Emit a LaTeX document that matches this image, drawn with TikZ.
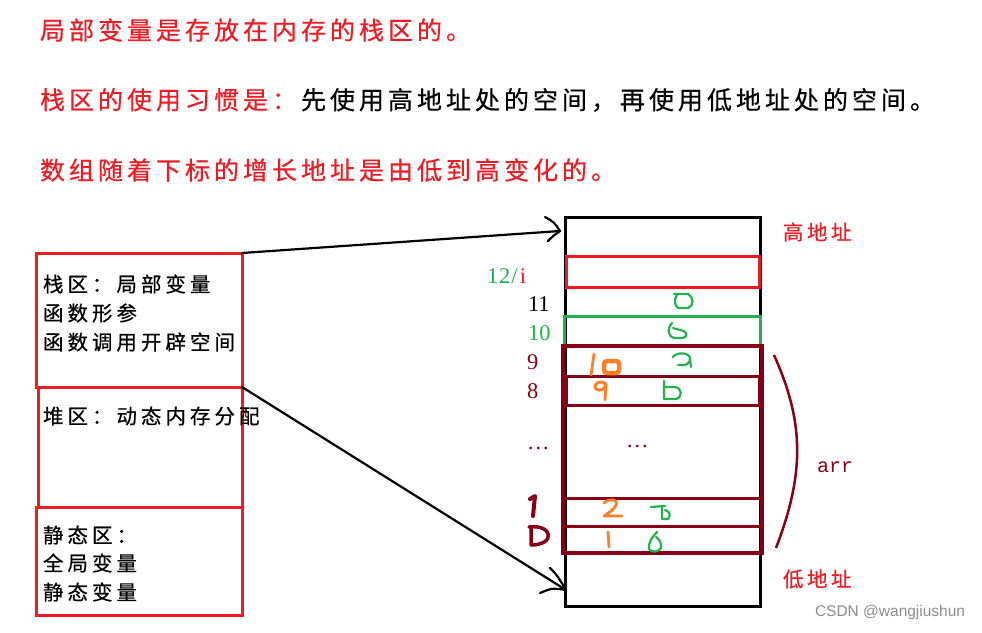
\documentclass[tikz,border=0pt]{standalone}
\usepackage{fontspec}
\setmainfont{Liberation Serif}
\newfontfamily\cjk[FakeBold=0.5]{Noto Sans CJK SC}
\newfontfamily\monof{Liberation Mono}
\newfontfamily\sansf{Liberation Sans}
\usetikzlibrary{arrows.meta}
\definecolor{pred}{HTML}{ED1C24}
\definecolor{pgreen}{HTML}{22B14C}
\definecolor{porange}{HTML}{FF7F27}
\definecolor{pdark}{HTML}{880015}
\makeatletter
\newcommand\cjkspread[2]{\@tfor\cjk@c:=#2\do{\makebox[#1][l]{\cjk@c}}}
\makeatother
\tikzset{
  txt/.style={inner sep=0pt, outer sep=0pt, anchor=west},
  title/.style={txt, font=\cjk\fontsize{25}{27}\selectfont},
  boxtxt/.style={txt, font=\cjk\fontsize{20.5}{22}\selectfont},
  num/.style={txt, font=\fontsize{22.5}{24}\selectfont},
  cell/.style={draw, inner sep=0pt, outer sep=0pt},
  hand/.style={line width=2.2pt, line cap=round, line join=round},
  conn/.style={line width=2.2pt, line cap=round, line join=round}
}
\begin{document}
\begin{tikzpicture}[x=1pt,y=-1pt]
\useasboundingbox (0,0) rectangle (982,632);
% titles
\node[title, text=pred] (t1) at (40,30) {\cjkspread{29pt}{局部变量是存放在内存的栈区的。}};
\node[title] (t2) at (40,100) {{\color{pred}\cjkspread{29pt}{栈区的使用习惯是：}}\cjkspread{29pt}{先使用高地址处的空间，再使用低地址处的空间。}};
\node[title, text=pred] (t3) at (40,170) {\cjkspread{29pt}{数组随着下标的增长地址是由低到高变化的。}};
% left memory zones
\node[cell, draw=pred, line width=3pt, minimum width=206, minimum height=134] (stack) at (139,320) {};
\node[cell, draw=pred, line width=3pt, minimum width=204, minimum height=120] (heap) at (140,447) {};
\node[cell, draw=pred, line width=3pt, minimum width=206, minimum height=108] (static) at (139,561) {};
\node[boxtxt] (s1) at (43,284) {\cjkspread{24.5pt}{栈区：局部变量}};
\node[boxtxt] (s2) at (43,313) {\cjkspread{24.5pt}{函数形参}};
\node[boxtxt] (s3) at (43,342) {\cjkspread{24.5pt}{函数调用开辟空间}};
\node[boxtxt] (h1) at (43,416) {\cjkspread{24.5pt}{堆区：动态内存分配}};
\node[boxtxt] (g1) at (43,535) {\cjkspread{24.5pt}{静态区：}};
\node[boxtxt] (g2) at (43,563) {\cjkspread{24.5pt}{全局变量}};
\node[boxtxt] (g3) at (43,592) {\cjkspread{24.5pt}{静态变量}};
% memory column
\node[cell, line width=3pt, minimum width=195, minimum height=389] (mem) at (662.5,411.5) {};
\node[cell, draw=pred, line width=3pt, minimum width=193, minimum height=31] (ci) at (662.5,271.5) {};
\node[cell, draw=pgreen, line width=3pt, minimum width=196, minimum height=29] (c10) at (662,330.5) {};
\node[cell, draw=pdark, line width=3.5pt, minimum width=199, minimum height=207] (arr) at (662.5,449.5) {};
\node[cell, draw=pdark, line width=3pt, minimum width=193, minimum height=29] (c8) at (662.5,390.5) {};
\node[cell, draw=pdark, line width=3pt, minimum width=199, minimum height=28] (c1) at (662.5,512) {};
\node[cell, draw=pdark, line width=3pt, minimum width=199, minimum height=27] (c0) at (662.5,539.5) {};
% index labels
\node[num] (li) at (487,276) {\textcolor{pgreen}{1\kern1pt2\kern1pt/\kern2pt}\textcolor{pred}{i}};
\node[num] (l11) at (528,304) {11};
\node[num, text=pgreen] (l10) at (528,333) {10};
\node[num, text=pdark] (l9) at (527,362) {9};
\node[num, text=pdark] (l8) at (527,391) {8};
\node[num, text=pdark] (ld) at (527,448) {\ldots};
\node[num, text=pdark] (md) at (626,446) {\ldots};
% handwritten dark red 1 and 0
\draw[pdark, line width=4pt, line cap=round, line join=round] (530,499) -- (535,496) -- (533,516);
\draw[pdark, line width=3.5pt, line cap=round, line join=round] (531,527) -- (531,545)
  (529,527) .. controls (553,524) and (556,545) .. (531,545);
% green handwritten zeros
\draw[hand, pgreen] (674,294) -- (688,294) .. controls (694,297) and (694,306) .. (688,308) -- (678,308) .. controls (674,305) and (674,299) .. (677,295);
\draw[hand, pgreen] (672,323) .. controls (667,328) and (667,338) .. (676,338) -- (683,338) .. controls (689,336) and (687,331) .. (680,330) -- (673,328);
\draw[hand, pgreen] (673,357) .. controls (676,352) and (689,352) .. (690,358) .. controls (691,364) and (685,366) .. (678,365) (690,360) -- (691,367);
\draw[hand, pgreen] (664,381) -- (664,399) -- (676,399) .. controls (683,397) and (682,388) .. (675,387) -- (665,387);
\draw[hand, pgreen] (651,507) -- (665,506) (662,507) -- (662,519) -- (668,519) .. controls (671,516) and (670,511) .. (665,510);
\draw[hand, pgreen] (657,532) .. controls (652,537) and (648,543) .. (649,549) .. controls (651,553) and (659,552) .. (661,548) .. controls (662,543) and (659,539) .. (656,537);
% orange handwritten indices
\draw[hand, porange, line width=2.8pt] (594,354) -- (591,375);
\draw[porange, line width=4.5pt, rounded corners=3pt] (604,361) rectangle (619,373);
\draw[hand, porange, line width=2.8pt] (606,384) .. controls (600,379) and (592,384) .. (596,389) .. controls (600,392) and (605,389) .. (606,384) -- (605,400);
\draw[hand, porange, line width=2.8pt] (604,503) .. controls (608,498) and (619,499) .. (616,505) .. controls (614,510) and (608,513) .. (604,516) -- (622,516);
\draw[hand, porange, line width=2.8pt] (608,532) -- (609,547);
% address labels
\node[boxtxt, text=pred] (hi) at (783,232) {\cjkspread{24pt}{高地址}};
\node[boxtxt, text=pred] (lo) at (783,579) {\cjkspread{24pt}{低地址}};
% arr brace
\coordinate (bt) at (774,355);
\coordinate (bb) at (776,548);
\draw[pdark, line width=2.5pt] (bt) .. controls (803,420) and (806,470) .. (bb);
\node[txt, font=\monof\fontsize{20}{22}\selectfont, text=pdark] (arrl) at (817,467) {arr};
% connectors
\coordinate (hiin) at (560,231);
\coordinate (loin) at (566,590);
\draw[conn] (stack.north east) -- (hiin);
\draw[conn] (545,217) .. controls (554,222) .. (hiin) .. controls (553,236) .. (548,241);
\draw[conn] (stack.south east) -- (loin);
\draw[conn] (550,568) .. controls (557,575) .. (loin) .. controls (552,588) .. (540,593);
% watermark
\node[txt, font=\sansf\fontsize{15.5}{17}\selectfont, text=black!45] (wm) at (815,612) {CSDN @wangjiushun};
\end{tikzpicture}
\end{document}
